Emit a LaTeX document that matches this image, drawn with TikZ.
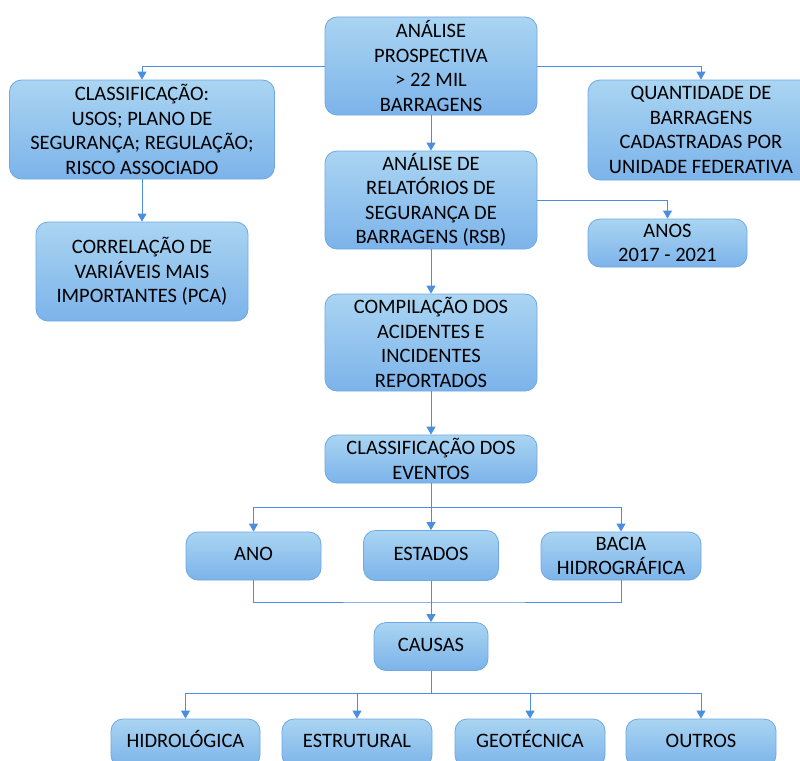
\documentclass[tikz,border=0pt]{standalone}
\usepackage{fontspec}
\setmainfont{Carlito}
\usetikzlibrary{arrows.meta}
\definecolor{topc}{HTML}{AAD5F2}
\definecolor{botc}{HTML}{7CB3EA}
\definecolor{edgec}{HTML}{6FA8E2}
\definecolor{arrc}{HTML}{4A8EE0}
\tikzset{
  box/.style={rounded corners=12pt, top color=topc, bottom color=botc, draw=edgec, line width=0.8pt,
    align=center, inner sep=1pt, font=\fontsize{20.5}{24.5}\selectfont},
  oneline/.style={text height=13pt, text depth=4pt},
  conn/.style={draw=arrc, line width=0.9pt},
  arr/.style={conn, -{Triangle[width=9pt,length=8pt]}}
}
\begin{document}
\begin{tikzpicture}[x=1pt,y=-1pt]
\useasboundingbox (0,0) rectangle (800,760);
\node[box, minimum width=212pt, minimum height=98pt] (ap) at (431,66) {ANÁLISE\\PROSPECTIVA\\> 22 MIL\\BARRAGENS};
\node[box, minimum width=265pt, minimum height=99pt] (cl) at (142,129.5) {CLASSIFICAÇÃO:\\USOS; PLANO DE\\SEGURANÇA; REGULAÇÃO;\\RISCO ASSOCIADO};
\node[box, minimum width=212pt, minimum height=99pt] (cor) at (142,271.5) {CORRELAÇÃO DE\\VARIÁVEIS MAIS\\IMPORTANTES (PCA)};
\node[box, minimum width=226pt, minimum height=100pt] (qt) at (701,130) {QUANTIDADE DE\\BARRAGENS\\CADASTRADAS POR\\UNIDADE FEDERATIVA};
\node[box, minimum width=212pt, minimum height=98pt] (rel) at (431,200) {ANÁLISE DE\\RELATÓRIOS DE\\SEGURANÇA DE\\BARRAGENS (RSB)};
\node[box, minimum width=159pt, minimum height=48pt] (anos) at (667.5,243) {ANOS\\2017 - 2021};
\node[box, minimum width=212pt, minimum height=97pt] (comp) at (431,342.5) {COMPILAÇÃO DOS\\ACIDENTES E\\INCIDENTES\\REPORTADOS};
\node[box, minimum width=212pt, minimum height=48pt] (cde) at (431,459) {CLASSIFICAÇÃO DOS\\EVENTOS};
\node[box, oneline, minimum width=135pt, minimum height=48pt] (ano) at (253.5,556) {ANO};
\node[box, oneline, minimum width=135pt, minimum height=50pt] (est) at (431,555.5) {ESTADOS};
\node[box, minimum width=160pt, minimum height=48pt] (bac) at (621,556) {BACIA\\HIDROGRÁFICA};
\node[box, oneline, minimum width=114pt, minimum height=48pt] (ca) at (431,646.5) {CAUSAS};
\node[box, oneline, minimum width=149pt, minimum height=48pt] (h1) at (185.5,743) {HIDROLÓGICA};
\node[box, oneline, minimum width=150pt, minimum height=48pt] (h2) at (357,743) {ESTRUTURAL};
\node[box, oneline, minimum width=150pt, minimum height=48pt] (h3) at (530,743) {GEOTÉCNICA};
\node[box, oneline, minimum width=150pt, minimum height=48pt] (h4) at (701,743) {OUTROS};
\coordinate (b1) at (431,507);
\coordinate (m1) at (431,602);
\coordinate (b2) at (431,693);
\draw[arr] (ap.west) -| (cl.north);
\draw[arr] (ap.east) -| (qt.north);
\draw[arr] (cl.south) -- (cor.north);
\draw[arr] (ap.south) -- (rel.north);
\draw[arr] (rel.east) -| (anos.north);
\draw[arr] (rel.south) -- (comp.north);
\draw[arr] (comp.south) -- (cde.north);
\draw[arr] (cde.south) -- (est.north);
\draw[arr] (b1) -| (ano.north);
\draw[arr] (b1) -| (bac.north);
\draw[conn] (ano.south) |- (m1) -| (bac.south);
\draw[arr] (est.south) -- (ca.north);
\draw[conn] (ca.south) -- (b2);
\draw[arr] (b2) -| (h1.north);
\draw[arr] (b2) -| (h2.north);
\draw[arr] (b2) -| (h3.north);
\draw[arr] (b2) -| (h4.north);
\end{tikzpicture}
\end{document}
